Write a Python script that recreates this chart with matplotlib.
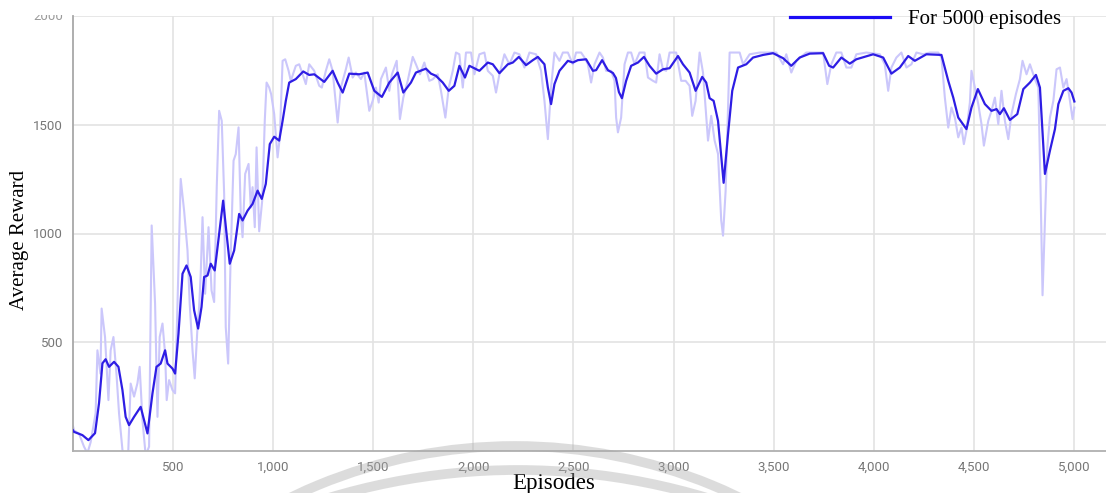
import matplotlib
matplotlib.use("Agg")
import matplotlib.pyplot as plt
from matplotlib.lines import Line2D
from matplotlib.patches import Arc
from matplotlib.ticker import FuncFormatter
from matplotlib.transforms import Bbox, offset_copy

# smoothed average reward (dark curve)
smooth_episodes = [
    0, 5, 47, 77, 110, 130, 147, 163, 180, 205, 227, 247, 263, 280, 305, 338, 355, 372,
    397, 417, 438, 460, 472, 497, 510, 527, 547, 567, 588, 605, 625, 642, 655, 672, 688,
    708, 730, 750, 767, 783, 805, 830, 847, 872, 897, 922, 943, 963, 983, 1005, 1030,
    1047, 1063, 1080, 1113, 1150, 1180, 1205, 1255, 1297, 1322, 1347, 1380, 1430, 1472,
    1505, 1543, 1580, 1622, 1650, 1688, 1713, 1763, 1788, 1813, 1847, 1877, 1905, 1930,
    1958, 1980, 2030, 2072, 2097, 2130, 2172, 2197, 2227, 2263, 2297, 2322, 2355, 2372,
    2388, 2405, 2430, 2472, 2497, 2522, 2563, 2597, 2613, 2643, 2672, 2697, 2712, 2727,
    2742, 2763, 2788, 2822, 2852, 2880, 2913, 2947, 2980, 3022, 3047, 3080, 3110, 3143,
    3163, 3180, 3200, 3222, 3250, 3272, 3293, 3322, 3363, 3397, 3447, 3497, 3547, 3588,
    3630, 3680, 3747, 3777, 3797, 3838, 3880, 3913, 3997, 4047, 4088, 4130, 4172, 4205,
    4263, 4338, 4372, 4397, 4422, 4463, 4488, 4520, 4555, 4588, 4613, 4630, 4650, 4680,
    4717, 4747, 4780, 4810, 4830, 4855, 4880, 4905, 4922, 4947, 4972, 4988, 5002,
]
smooth_reward = [
    95, 88, 73, 50, 82, 220, 403, 422, 387, 410, 387, 280, 157, 119, 157, 203, 142, 81,
    265, 387, 402, 463, 402, 379, 356, 540, 815, 853, 800, 647, 563, 662, 800, 807, 861,
    830, 999, 1151, 999, 861, 922, 1090, 1060, 1105, 1136, 1197, 1159, 1228, 1411, 1445, 1427,
    1518, 1610, 1694, 1710, 1745, 1729, 1732, 1697, 1748, 1694, 1648, 1735, 1732, 1740,
    1656, 1628, 1694, 1740, 1648, 1694, 1740, 1758, 1735, 1725, 1694, 1656, 1679, 1771,
    1717, 1771, 1748, 1786, 1778, 1737, 1778, 1786, 1812, 1774, 1797, 1812, 1778, 1671,
    1595, 1687, 1748, 1794, 1786, 1797, 1801, 1748, 1751, 1797, 1751, 1738, 1715, 1650,
    1622, 1702, 1771, 1786, 1812, 1771, 1735, 1755, 1760, 1816, 1778, 1740, 1656, 1720,
    1694, 1622, 1610, 1518, 1233, 1457, 1656, 1763, 1778, 1809, 1821, 1829, 1806, 1771,
    1809, 1827, 1829, 1771, 1763, 1809, 1781, 1801, 1824, 1809, 1735, 1763, 1816, 1794,
    1824, 1821, 1702, 1625, 1533, 1480, 1579, 1664, 1595, 1564, 1572, 1549, 1576, 1522,
    1549, 1664, 1694, 1729, 1671, 1274, 1381, 1480, 1595, 1656, 1668, 1648, 1607,
]

# per-episode reward (light curve)
raw_episodes = [
    0, 5, 30, 55, 72, 88, 113, 122, 137, 143, 160, 177, 188, 202, 217, 230, 247, 262,
    275, 288, 305, 322, 333, 347, 363, 380, 393, 410, 422, 433, 447, 460, 468, 480, 497,
    510, 522, 538, 555, 572, 583, 597, 608, 622, 630, 638, 647, 660, 677, 692, 705, 718,
    730, 743, 755, 763, 775, 788, 802, 813, 827, 838, 847, 860, 877, 888, 897, 908, 917,
    930, 945, 958, 967, 980, 990, 1005, 1022, 1033, 1047, 1060, 1077, 1088, 1113, 1130,
    1147, 1163, 1180, 1205, 1230, 1243, 1263, 1280, 1297, 1310, 1322, 1338, 1363, 1377,
    1397, 1413, 1438, 1455, 1480, 1497, 1513, 1527, 1538, 1563, 1580, 1593, 1617, 1633,
    1650, 1672, 1697, 1713, 1733, 1755, 1780, 1797, 1822, 1838, 1860, 1877, 1897, 1913,
    1930, 1947, 1963, 1988, 2005, 2030, 2055, 2072, 2097, 2113, 2130, 2155, 2180, 2205,
    2230, 2255, 2280, 2313, 2338, 2355, 2372, 2388, 2405, 2430, 2447, 2472, 2497, 2513,
    2538, 2555, 2572, 2588, 2605, 2630, 2647, 2663, 2688, 2705, 2713, 2722, 2738, 2755,
    2772, 2788, 2805, 2830, 2855, 2872, 2897, 2913, 2930, 2947, 2963, 2980, 3013, 3038,
    3060, 3080, 3093, 3110, 3130, 3147, 3160, 3172, 3188, 3205, 3222, 3238, 3247, 3260,
    3272, 3280, 3330, 3347, 3380, 3430, 3513, 3547, 3563, 3588, 3613, 3663, 3747, 3768,
    3788, 3813, 3838, 3863, 3888, 3913, 3963, 4030, 4055, 4072, 4088, 4113, 4138, 4163,
    4188, 4213, 4247, 4280, 4322, 4338, 4355, 4372, 4388, 4405, 4422, 4438, 4450, 4463,
    4480, 4488, 4505, 4522, 4538, 4550, 4572, 4588, 4605, 4622, 4638, 4655, 4672, 4688,
    4710, 4730, 4743, 4763, 4780, 4805, 4822, 4833, 4843, 4855, 4867, 4880, 4897, 4913,
    4930, 4947, 4963, 4980, 4993, 5002,
]
raw_reward = [
    115, 95, 80, 20, -10, 40, 174, 463, 356, 655, 524, 234, 463, 524, 356, 173, 5, -40,
    -30, 310, 250, 312, 387, 142, -20, 20, 1037, 677, 157, 524, 586, 447, 234, 326, 280,
    265, 677, 1251, 1105, 922, 677, 463, 334, 570, 662, 815, 1075, 723, 1029, 738, 685, 1213,
    1564, 1518, 1182, 570, 402, 907, 1335, 1365, 1488, 1090, 983, 1274, 1320, 1120, 1213, 1029, 1396,
    1010, 1150, 1520, 1694, 1671, 1640, 1549, 1350, 1442, 1794, 1801, 1748, 1702, 1771, 1778,
    1732, 1687, 1778, 1748, 1679, 1671, 1748, 1801, 1748, 1625, 1510, 1671, 1755, 1809,
    1717, 1740, 1710, 1740, 1564, 1610, 1671, 1602, 1710, 1763, 1656, 1732, 1794, 1526,
    1625, 1702, 1812, 1778, 1732, 1786, 1702, 1709, 1732, 1656, 1533, 1671, 1748, 1832,
    1824, 1671, 1832, 1832, 1732, 1824, 1832, 1748, 1725, 1648, 1732, 1824, 1778, 1832,
    1824, 1763, 1832, 1824, 1748, 1610, 1434, 1671, 1832, 1794, 1832, 1832, 1778, 1832,
    1832, 1809, 1778, 1694, 1778, 1832, 1809, 1748, 1748, 1702, 1533, 1465, 1533, 1778,
    1832, 1832, 1778, 1832, 1832, 1717, 1702, 1694, 1824, 1755, 1748, 1832, 1832, 1702,
    1702, 1679, 1541, 1610, 1832, 1740, 1579, 1427, 1541, 1427, 1366, 1060, 990, 1197,
    1579, 1832, 1832, 1778, 1824, 1832, 1832, 1778, 1824, 1740, 1794, 1832, 1832, 1687,
    1778, 1832, 1832, 1763, 1763, 1824, 1832, 1824, 1778, 1656, 1763, 1809, 1832, 1763,
    1778, 1832, 1824, 1832, 1832, 1809, 1625, 1487, 1579, 1533, 1442, 1487, 1411, 1472,
    1602, 1748, 1671, 1595, 1503, 1404, 1518, 1564, 1625, 1503, 1656, 1518, 1434, 1549,
    1641, 1710, 1794, 1732, 1778, 1710, 1671, 1212, 716, 1060, 1396, 1533, 1610, 1755,
    1763, 1671, 1710, 1610, 1526, 1579,
]

x_ticks = [500, 1000, 1500, 2000, 2500, 3000, 3500, 4000, 4500, 5000]
y_ticks = [500, 1000, 1500, 2000]
legend_label = "For 5000 episodes"

W, H = 1106, 493
fig = plt.figure(figsize=(W / 100, H / 100), dpi=100)
fig.patch.set_facecolor("white")

ax = fig.add_axes([73 / W, 1 - 451 / H, 1 - 73 / W, (451 - 16) / H])
ax.set_xlim(0, 5160)
ax.set_ylim(0, 2000)

ax.plot(raw_episodes, raw_reward, color="#cbc7fb", lw=1.5, solid_joinstyle="round", zorder=2)
ax.plot(smooth_episodes, smooth_reward, color="#2e1de4", lw=1.6, solid_joinstyle="round", zorder=3)

ax.set_xticks(x_ticks)
ax.set_yticks(y_ticks)
# the top label is drawn separately below so it can be cut at the figure edge
ax.set_yticklabels([str(v) for v in y_ticks[:-1]] + [""])
ax.xaxis.set_major_formatter(FuncFormatter(lambda v, _: f"{int(v):,}"))
ax.grid(True, color="#e3e3e3", lw=1.2)
ax.set_axisbelow(True)
ax.tick_params(length=0, labelsize=9.5, labelcolor="#777777", pad=7)
for lbl in ax.get_xticklabels() + ax.get_yticklabels():
    lbl.set_fontfamily("Roboto")

top_label = ax.text(0, y_ticks[-1], str(y_ticks[-1]), ha="right", va="center",
                    fontsize=9.5, family="Roboto", color="#9a9a9a",
                    transform=offset_copy(ax.get_yaxis_transform(), fig=fig, x=-7, units="points"))
top_label.set_clip_box(Bbox.from_extents(0, 0, W, H - 15))
top_label.set_clip_on(True)

for side in ("top", "right"):
    ax.spines[side].set_visible(False)
ax.spines["left"].set_color("#a8a8a8")
ax.spines["bottom"].set_color("#b0b0b0")
ax.spines["left"].set_linewidth(1.3)
ax.spines["bottom"].set_linewidth(1.3)

fig.text(20 / W, 1 - 240 / H, "Average Reward", rotation=90, ha="center", va="center",
         fontsize=15, family="Liberation Serif", color="black")
fig.text(554 / W, 1 - 483 / H, "Episodes", ha="center", va="center",
         fontsize=16.5, family="Liberation Serif", color="black")

handle = Line2D([], [], color="#1c0cf5", lw=2.3)
fig.legend([handle], [legend_label], loc="center left",
           bbox_to_anchor=(790 / W, 1 - 19 / H), frameon=False, borderpad=0,
           borderaxespad=0, handlelength=4.8, handletextpad=0.85,
           prop={"family": "Liberation Serif", "size": 15})

# faint seal watermark over the lower part of the figure
overlay = fig.add_axes([0, 0, 1, 1], zorder=5)
overlay.set_xlim(0, W)
overlay.set_ylim(H, 0)
overlay.axis("off")
overlay.patch.set_alpha(0)
for cx, cy, r in [(515, 961, 515), (518, 1125, 655)]:
    overlay.add_patch(Arc((cx, cy), 2 * r, 2 * r, color="#a9a9a9", lw=7, alpha=0.4))

fig.savefig("out.png", dpi=100)
